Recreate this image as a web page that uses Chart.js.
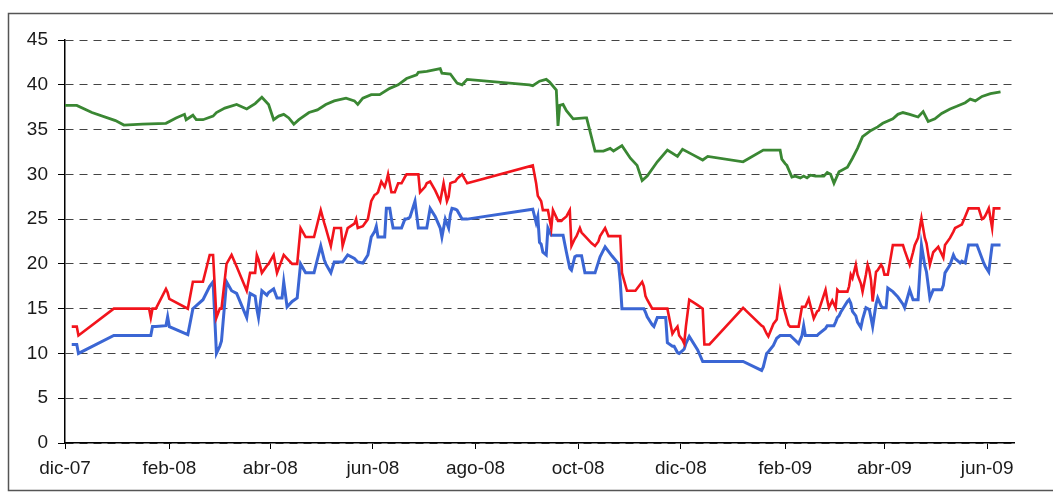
<!DOCTYPE html>
<html>
<head>
<meta charset="utf-8">
<script src="https://cdn.jsdelivr.net/npm/chart.js@4.4.0/dist/chart.umd.min.js"></script>
<style>
  html, body { margin: 0; padding: 0; background: #fff; }
  canvas { display: block; }
</style>
</head>
<body>
<canvas id="chart" width="1053" height="495"></canvas>
<script>
// x values are days counted from 1 Dec 2007
const tickDays = [0, 62, 122, 183, 244, 305, 366, 428, 487, 548];
const tickLabels = ["dic-07", "feb-08", "abr-08", "jun-08", "ago-08", "oct-08", "dic-08", "feb-09", "abr-09", "jun-09"];

// red and blue share the same dates
const rbDays = [4, 7, 8, 29, 50, 51, 52, 54, 60, 61, 62, 73, 76, 82, 86, 88, 90, 92, 93, 96,
  99, 102, 108, 110, 113, 114, 115, 117, 120, 121, 124, 126, 129, 130, 132, 135, 138, 140, 143, 148,
  152, 154, 155, 158, 160, 164, 165, 168, 172, 173, 174, 177, 180, 182, 184, 185, 186, 188, 190, 191,
  192, 193, 194, 195, 196, 198, 200, 202, 203, 205, 208, 210, 211, 214, 215, 217, 220, 223, 224, 225,
  226, 227, 228, 229, 230, 232, 233, 236, 239, 278, 280, 281, 282, 283, 284, 286, 287, 289, 290, 293,
  295, 296, 298, 300, 301, 303, 304, 306, 307, 309, 313, 315, 317, 318, 321, 323, 325, 329, 330, 331,
  334, 339, 343, 344, 345, 346, 349, 350, 352, 353, 357, 358, 361, 362, 364, 365, 367, 368, 369, 371,
  376, 379, 380, 383, 403, 414, 415, 417, 418, 421, 423, 425, 427, 430, 431, 436, 438, 439, 440, 442,
  445, 447, 448, 452, 453, 454, 456, 457, 458, 459, 460, 461, 465, 466, 467, 468, 470, 471, 473, 474,
  476, 477, 478, 479, 480, 482, 483, 485, 486, 487, 488, 489, 492, 495, 498, 499, 502, 504, 505, 507,
  509, 511, 512, 514, 516, 519, 521, 522, 523, 526, 528, 529, 532, 533, 535, 537, 542, 543, 545, 546,
  547, 549, 551, 552, 556];

const redValues = [13, 13, 12, 15, 15, 14, 15, 15, 17.2, 16.8, 16.1, 15, 18, 18, 21, 21, 14, 15, 15, 20,
  21, 19.7, 17, 19, 19, 21, 20.5, 19, 19.8, 20, 21, 19, 20.5, 21, 20.6, 20, 20, 24, 23, 23,
  26, 24.6, 24, 22, 24, 24, 22, 24, 24.5, 25, 24, 24.2, 25, 27, 27.7, 27.8, 28, 29.2, 28.6, 29.2,
  30, 29, 28, 28, 28, 29, 29, 29.7, 30, 30, 30, 30, 28, 28.6, 29, 29.2, 28.2, 27, 28, 29,
  28, 27, 27.5, 29, 29.1, 29.2, 29.5, 30, 29, 31, 29, 27.6, 27.3, 27, 26, 26, 26, 24, 26, 24.8,
  24.8, 25, 25.3, 26, 22, 22.8, 23.1, 24, 23.5, 23.1, 22.3, 22, 22.5, 23.1, 24, 23.1, 23.1, 23.1, 23.1, 19,
  17, 17, 18, 17.5, 16.4, 16, 15, 15, 15, 15, 15, 15, 12.2, 12.5, 13, 12, 11.5, 11.1, 13, 16,
  15.4, 15, 11, 11, 15.1, 13.1, 13, 12.2, 11.9, 13.3, 13.8, 17, 15.2, 13.2, 13, 13, 15.2, 15.2, 15.2, 16.1,
  13.9, 14.7, 14.8, 17.1, 16, 15.1, 15.9, 15.5, 15.1, 17.1, 16.9, 16.9, 16.9, 17.5, 18.8, 18.4, 19.9, 18.8, 17.8, 16.9,
  18.8, 19.9, 19.3, 18.2, 15.8, 19.1, 19.3, 19.9, 19.6, 18.8, 18.8, 18.8, 22.1, 22.1, 22.1, 21.5, 19.9, 21.3, 22.1, 22.9,
  25.1, 22.9, 22.3, 19.9, 21.3, 21.9, 21.1, 20.7, 22.1, 22.9, 23.6, 24, 24.3, 24.4, 25.3, 26.2, 26.2, 26.2, 25, 25.1,
  25.4, 26.2, 24, 26.2, 26.2];

const blueValues = [11, 11, 10, 12, 12, 12, 13, 13, 13.1, 14.1, 13, 12.1, 15, 16, 17.5, 18, 10, 10.8, 11.4, 18,
  17, 16.7, 14, 16.7, 16.4, 15, 14, 17, 16.5, 16.8, 17.2, 16.2, 16.2, 18, 15.2, 15.8, 16.2, 20, 19, 19,
  22, 20.5, 20, 19, 20.2, 20.2, 20.2, 21, 20.6, 20.4, 20.2, 20.1, 21, 23, 23.6, 24.2, 23, 23, 23, 26.2,
  26.2, 26.2, 25, 24, 24, 24, 24, 25, 25, 25.2, 27, 24, 24, 24, 24, 26.2, 25.3, 24, 23, 24,
  25, 24.5, 24, 25.5, 26.2, 26.1, 26, 25, 25, 26.1, 24.6, 25.3, 22.4, 22.2, 21.3, 21, 24, 23.2, 23.2, 23.2,
  23.2, 23.2, 21.3, 19.5, 19.3, 20.8, 20.9, 20.9, 20.9, 19, 19, 19, 20.2, 20.8, 21.9, 21.4, 20.9, 20, 18, 15,
  15, 15, 15, 15, 14.6, 14.1, 13.2, 13, 14, 14, 14, 11.2, 10.8, 10.8, 10.1, 10, 10.3, 10.5, 11.1, 11.9,
  10.4, 9.1, 9.1, 9.1, 9.1, 8.1, 8.5, 10, 10.2, 10.9, 11.7, 12, 12, 12, 12, 11.1, 12, 13.1, 12, 12,
  12, 12, 12.2, 12.8, 13.1, 13.1, 13.1, 13.1, 13.5, 14, 14.2, 14.6, 15.8, 16, 15.6, 14.7, 14.2, 13.5, 12.9, 13.8,
  15.1, 15, 14.9, 14, 13, 15.5, 16.2, 15.3, 15.1, 15.1, 15.1, 17.3, 16.9, 16.3, 15.5, 15.1, 17.1, 16, 16, 16,
  22.1, 19.8, 19.1, 16.2, 17.1, 17.1, 17.1, 17.6, 19, 19.9, 21, 20.6, 20.1, 20.3, 20.1, 22.1, 22.1, 21.6, 20.6, 20.1,
  19.7, 19.1, 22.1, 22.1, 22.1];

const greenDays = [0, 7, 16, 30, 35, 46, 60, 66, 71, 72, 76, 78, 82, 88, 90, 95, 102, 108, 113, 117,
  121, 124, 127, 130, 133, 136, 139, 145, 150, 155, 160, 167, 172, 174, 177, 182, 187, 193, 198, 203,
  209, 210, 215, 223, 224, 229, 233, 236, 239, 276, 278, 282, 286, 288, 292, 293, 294, 296, 298, 302,
  309, 310, 315, 320, 324, 326, 331, 336, 340, 343, 346, 352, 358, 364, 367, 373, 379, 382, 403, 415,
  425, 426, 428, 429, 432, 434, 437, 439, 441, 443, 446, 451, 453, 455, 456, 457, 460, 465, 468, 471,
  474, 479, 483, 486, 492, 495, 498, 502, 507, 510, 513, 517, 521, 526, 530, 535, 538, 541, 545, 550,
  556];

const greenValues = [37.7, 37.7, 36.9, 36, 35.5, 35.6, 35.7, 36.3, 36.7, 36.1, 36.6, 36.1, 36.1, 36.5, 36.9, 37.4, 37.8, 37.3, 37.9, 38.6,
  37.8, 36.1, 36.5, 36.7, 36.3, 35.6, 36.1, 36.9, 37.2, 37.8, 38.2, 38.5, 38.2, 37.8, 38.5, 38.9, 38.9, 39.6, 40, 40.7,
  41.1, 41.4, 41.5, 41.8, 41.3, 41.2, 40.2, 40, 40.6, 40, 39.9, 40.4, 40.6, 40.3, 39.4, 35.4, 37.7, 37.8, 37.1, 36.2,
  36.3, 36.3, 32.6, 32.6, 32.9, 32.6, 33.2, 31.8, 31, 29.3, 29.8, 31.4, 32.7, 32, 32.8, 32.2, 31.6, 32, 31.4, 32.7,
  32.7, 31.7, 31.2, 31, 29.7, 29.8, 29.6, 29.8, 29.6, 29.9, 29.8, 29.8, 30.2, 30, 29.5, 29, 30.3, 30.8, 31.8, 32.9,
  34.2, 34.9, 35.3, 35.7, 36.2, 36.7, 36.9, 36.7, 36.4, 37, 35.9, 36.2, 36.8, 37.3, 37.6, 38, 38.4, 38.2, 38.7, 39,
  39.2];

function toPoints(days, values) {
  return days.map((d, i) => ({ x: d, y: values[i] }));
}

// white page and the thin frame around the whole chart
const framePlugin = {
  id: "frame",
  beforeDraw(chart) {
    const ctx = chart.ctx;
    ctx.save();
    ctx.fillStyle = "#fff";
    ctx.fillRect(0, 0, chart.width, chart.height);
    ctx.strokeStyle = "#555";
    ctx.lineWidth = 1.5;
    ctx.strokeRect(8.5, 13.5, 1070, 477);
    ctx.restore();
  }
};

const font = { family: "Arial, 'Liberation Sans', sans-serif", size: 19 };

new Chart(document.getElementById("chart").getContext("2d"), {
  type: "line",
  data: {
    datasets: [
      { data: toPoints(rbDays, redValues), borderColor: "#f2141c", borderWidth: 2.6 },
      { data: toPoints(rbDays, blueValues), borderColor: "#3b66d4", borderWidth: 3 },
      { data: toPoints(greenDays, greenValues), borderColor: "#3a8733", borderWidth: 2.8 }
    ]
  },
  options: {
    responsive: false,
    animation: false,
    devicePixelRatio: 1,
    layout: { padding: { left: 0, right: 39, top: 40, bottom: 0 } },
    elements: {
      line: { tension: 0, fill: false },
      point: { radius: 0 }
    },
    plugins: {
      legend: { display: false },
      tooltip: { enabled: false }
    },
    scales: {
      x: {
        type: "linear",
        min: 0,
        max: 564,
        afterBuildTicks: axis => { axis.ticks = tickDays.map(v => ({ value: v })); },
        afterFit: axis => { axis.height = 52; },
        ticks: {
          autoSkip: false,
          maxRotation: 0,
          minRotation: 0,
          padding: 8,
          color: "#1a1a1a",
          font: font,
          callback: (value, index) => tickLabels[index]
        },
        grid: { drawOnChartArea: false, drawTicks: true, tickLength: 6, tickColor: "#000", tickWidth: 1 },
        border: { display: true, color: "#000", width: 1.5 }
      },
      y: {
        min: 0,
        max: 45,
        afterFit: axis => { axis.width = 65; },
        ticks: { stepSize: 5, padding: 10, color: "#1a1a1a", font: font },
        grid: { color: "#444", lineWidth: 1, drawTicks: true, tickLength: 7, tickColor: "#000" },
        border: { display: true, color: "#000", width: 1.5, dash: [8, 6] }
      }
    }
  },
  plugins: [framePlugin]
});
</script>
</body>
</html>
